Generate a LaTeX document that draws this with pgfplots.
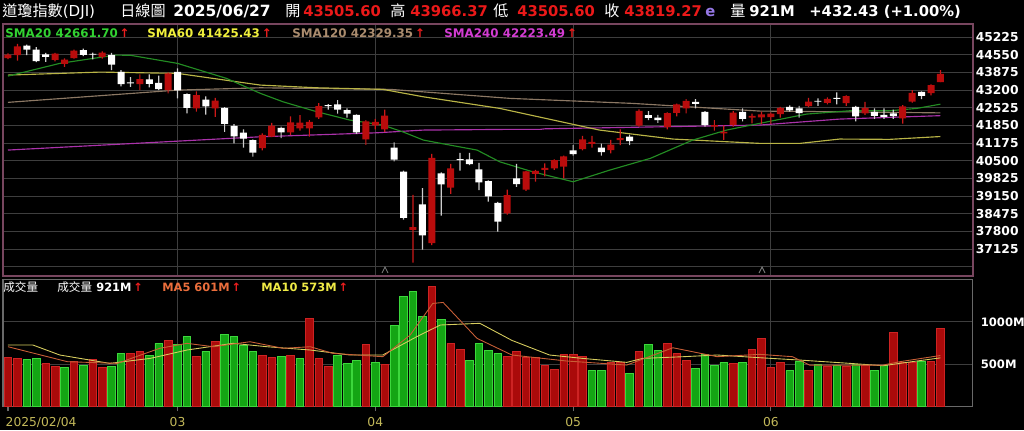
\documentclass[border=0pt]{standalone}
\usepackage{fontspec}
\setmainfont{DejaVu Sans}
\newfontfamily\cjk{Noto Sans CJK TC}
\usepackage{pgfplots}
\usepackage{pgfplotstable}
\pgfplotsset{compat=1.18}

\definecolor{gridc}{RGB}{62,62,62}
\definecolor{pframe}{RGB}{120,70,95}
\definecolor{vframe}{RGB}{105,105,105}
\definecolor{candr}{RGB}{185,12,12}
\definecolor{wickr}{RGB}{205,25,25}
\definecolor{wickw}{RGB}{205,205,205}
\definecolor{hdrred}{RGB}{235,25,25}
\definecolor{arrred}{RGB}{235,30,30}
\definecolor{volr}{RGB}{170,10,10}
\definecolor{volrb}{RGB}{205,35,35}
\definecolor{volg}{RGB}{20,165,20}
\definecolor{volgb}{RGB}{60,215,60}
\definecolor{sma20l}{RGB}{35,140,35}
\definecolor{sma20t}{RGB}{50,210,50}
\definecolor{sma60l}{RGB}{185,180,70}
\definecolor{sma60t}{RGB}{240,240,60}
\definecolor{sma120l}{RGB}{140,120,100}
\definecolor{sma120t}{RGB}{170,140,110}
\definecolor{sma240l}{RGB}{170,50,170}
\definecolor{sma240t}{RGB}{210,60,210}
\definecolor{ma5l}{RGB}{200,95,55}
\definecolor{ma5t}{RGB}{235,110,60}
\definecolor{ma10l}{RGB}{215,205,95}
\definecolor{ma10t}{RGB}{240,235,70}
\definecolor{dtxt}{RGB}{195,185,90}
\definecolor{epurple}{RGB}{150,120,230}

% daily candles, index 0 = 2025/02/04 ... 99 = 2025/06/27
\pgfplotstableread{
i o h l c
0 44420 44600 44380 44556
1 44540 44970 44330 44873
2 44900 44940 44540 44747
3 44750 44840 44270 44303
4 44560 44620 44280 44470
5 44350 44620 44300 44593
6 44200 44410 44090 44368
7 44420 44750 44400 44711
8 44725 44780 44500 44546
9 44565 44630 44370 44556
10 44470 44680 44400 44627
11 44540 44620 43960 44176
12 43900 43960 43340 43428
13 43480 43700 43320 43461
14 43430 43800 43200 43621
15 43610 43800 43300 43433
16 43480 43750 43200 43239
17 43200 43880 43070 43841
18 43900 44030 42880 43191
19 43050 43070 42310 42520
20 42500 43150 42380 43006
21 42840 42960 42260 42579
22 42500 42900 42180 42801
23 42520 42550 41600 41911
24 41830 41900 41160 41433
25 41570 41700 41000 41350
26 41290 41320 40660 40813
27 40980 41550 40900 41488
28 41420 41950 41400 41841
29 41760 41800 41360 41581
30 41580 42200 41480 41965
31 41740 42240 41650 41953
32 41740 42050 41420 41985
33 42160 42700 42100 42583
34 42630 42660 42450 42587
35 42650 42820 42300 42455
36 42430 42500 42150 42300
37 42250 42270 41530 41584
38 41320 42050 41110 42002
39 41850 42100 41700 41989
40 41700 42450 41600 42225
41 41000 41200 40480 40546
42 40080 40120 38250 38315
43 37860 39200 36610 37966
44 38830 39450 37100 37646
45 37350 40760 37280 40609
46 40020 40060 38400 39594
47 39470 40380 39230 40213
48 40560 40800 40120 40525
49 40550 40800 40330 40368
50 40170 40420 39380 39669
51 39720 39750 38940 39142
52 38890 38930 37790 38170
53 38490 39400 38440 39187
54 39830 40380 39500 39607
55 39400 40100 39350 40093
56 40000 40150 39700 40114
57 40150 40400 39900 40228
58 40210 40550 40150 40528
59 40280 40700 39830 40669
60 40900 41100 40700 40753
61 40940 41450 40900 41317
62 41140 41450 41000 41219
63 41000 41150 40700 40829
64 40910 41300 40780 41114
65 41290 41700 41100 41368
66 41420 41500 41100 41249
67 41840 42460 41800 42410
68 42240 42400 42050 42140
69 42150 42250 41950 42051
70 41780 42350 41700 42323
71 42330 42680 42200 42655
72 42500 42850 42310 42792
73 42750 42850 42500 42677
74 42370 42400 41800 41860
75 41800 42050 41650 41859
76 41550 41850 41300 41603
77 41870 42400 41800 42343
78 42370 42500 42000 42099
79 42150 42300 41930 42216
80 42160 42380 41900 42270
81 42170 42350 41900 42305
82 42280 42560 42150 42519
83 42560 42620 42380 42428
84 42500 42600 42150 42320
85 42590 42900 42550 42763
86 42780 42880 42600 42762
87 42715 42920 42650 42867
88 42900 43110 42650 42865
89 42700 43000 42600 42968
90 42560 42600 42000 42198
91 42310 42750 42250 42516
92 42370 42500 42100 42215
93 42250 42500 42100 42172
94 42310 42450 42100 42207
95 42120 42630 41920 42582
96 42760 43200 42720 43089
97 43130 43150 42850 42982
98 43080 43420 43000 43386
99 43505.6 43966.37 43505.6 43819.27
}\candles

\pgfplotsset{
  pricepanel/.style={at={(0.06cm,3.08cm)}, anchor=south west,
    scale only axis, width=19.4cm, height=5.04cm,
    xmin=-0.53, xmax=102.44, ymin=36095, ymax=45722},
}

\begin{document}
\begin{tikzpicture}[x=0.02cm,y=0.02cm]
\fill[black] (0,0) rectangle (1024,430);

% ---------------- price panel: frame, grid, labels, averages ----------------
\begin{axis}[
  pricepanel,
  axis line style={draw=pframe, line width=0.8pt},
  scaled y ticks=false,
  xtick={18,39,60,81}, xticklabels={},
  ytick={36450,37125,37800,38475,39150,39825,40500,41175,41850,42525,43200,43875,44550,45225},
  yticklabels={,37125,37800,38475,39150,39825,40500,41175,41850,42525,43200,43875,44550,45225},
  yticklabel pos=right,
  yticklabel style={font=\bfseries\fontsize{7}{8}\selectfont, text=white, inner sep=1.5pt},
  major tick length=0,
  xmajorgrids, ymajorgrids,
  major grid style={draw=gridc, line width=0.6pt},
]
\addplot[sma240l, line width=0.65pt, mark=none] coordinates {
(0,40908) (26.8,41416) (39.2,41569) (44.1,41672) (53.3,41699) (56.5,41699) (57,41720) (79.8,41863) (88.3,42092) (99,42223)};
\addplot[sma120l, line width=0.65pt, mark=none] coordinates {
(0,42731) (18,43200) (26.8,43288) (40.6,43227) (53.3,42883) (66.3,42692) (79.8,42398) (88.3,42371) (99,42329)};
\addplot[sma60l, line width=0.65pt, mark=none] coordinates {
(0,43773) (9.8,43888) (18,43838) (26.8,43391) (32.8,43288) (39.8,43227) (44.1,42944) (52.2,42501) (62.8,41672) (70.6,41329) (79.8,41164) (84.1,41164) (88.3,41329) (93.6,41317) (99,41425)};
\addplot[sma20l, line width=0.65pt, mark=none] coordinates {
(0,43735) (5.5,44220) (11.4,44537) (13,44530) (18,44220) (23.2,43647) (26.8,43074) (29.2,42753) (32.8,42371) (36.3,42054) (39.8,41863) (41.9,41607) (44.1,41290) (46.9,41100) (49.8,40908) (52.2,40461) (55.7,40079) (60,39697) (63.9,40144) (68.2,40591) (72.7,41290) (76.3,41672) (79.8,41928) (84.8,42284) (89.4,42410) (93.6,42410) (96.5,42500) (99,42662)};
\end{axis}

% wicks: invisible bar up to the low, then high-low
\begin{axis}[pricepanel, hide axis, ybar stacked, bar width=0.024cm]
\addplot[fill=none, draw=none] table[x=i, y=l] {\candles};
\addplot[fill=wickr, draw=none] table[x=i, y expr={\thisrow{c}>\thisrow{o} ? \thisrow{h}-\thisrow{l} : 0}] {\candles};
\addplot[fill=wickw, draw=none] table[x=i, y expr={\thisrow{c}>\thisrow{o} ? 0 : \thisrow{h}-\thisrow{l}}] {\candles};
\end{axis}

% bodies: invisible bar up to min(open,close), then |close-open|
\begin{axis}[pricepanel, hide axis, ybar stacked, bar width=0.14cm]
\addplot[fill=none, draw=none] table[x=i, y expr={min(\thisrow{o},\thisrow{c})}] {\candles};
\addplot[fill=candr, draw=none] table[x=i, y expr={\thisrow{c}>\thisrow{o} ? max(\thisrow{c}-\thisrow{o},30) : 0}] {\candles};
\addplot[fill=white, draw=none] table[x=i, y expr={\thisrow{c}>\thisrow{o} ? 0 : max(\thisrow{o}-\thisrow{c},30)}] {\candles};
\end{axis}

% ---------------- volume panel ----------------
\begin{axis}[
  at={(0.06cm,0.474cm)}, anchor=south west,
  scale only axis, width=19.4cm, height=2.536cm,
  xmin=-0.53, xmax=102.44, ymin=0, ymax=1500,
  axis line style={draw=vframe, line width=0.6pt},
  xtick={18,39,60,81}, xticklabels={03,04,05,06},
  extra x ticks={0}, extra x tick labels={2025/02/04},
  extra x tick style={grid=none, xticklabel style={anchor=north west, xshift=-0.17cm}},
  xtick pos=lower, tick align=outside,
  xtick style={draw=vframe, line width=0.6pt},
  major tick length=0.1cm,
  xticklabel style={font=\fontsize{7}{8}\selectfont, text=dtxt},
  ytick={500,1000}, yticklabels={500M,1000M},
  yticklabel pos=right,
  ytick style={draw=none},
  yticklabel style={font=\bfseries\fontsize{6.6}{8}\selectfont, text=white, inner sep=1.5pt},
  xmajorgrids, ymajorgrids,
  major grid style={draw=gridc, line width=0.6pt},
]
\addplot[ybar, bar width=0.152cm, bar shift=0pt, fill=volr, draw=volrb, line width=0.4pt] coordinates {
(0,574) (1,567) (4,508) (5,468) (7,527) (9,559) (10,456) (13,626) (14,654) (17,784)
(20,595) (22,772) (27,606) (28,575) (30,606) (32,1040) (33,567) (34,468) (38,736) (40,500)
(45,1414) (47,745) (48,677) (53,595) (54,645) (55,575) (56,575) (57,488) (58,441) (59,614)
(60,614) (61,595) (64,520) (65,520) (67,654) (70,745) (71,626) (72,547) (77,508) (79,677)
(80,804) (81,461) (82,520) (85,429) (87,468) (89,468) (91,480) (94,870) (95,520) (96,520)
(98,535) (99,921)};
\addplot[ybar, bar width=0.152cm, bar shift=0pt, fill=volg, draw=volgb, line width=0.4pt] coordinates {
(2,555) (3,567) (6,456) (8,488) (11,468) (12,626) (15,606) (16,745) (18,736) (19,823)
(21,654) (23,851) (24,831) (25,725) (26,654) (29,587) (31,567) (35,606) (36,508) (37,544)
(39,520) (41,953) (42,1296) (43,1363) (44,1059) (46,1028) (49,547) (50,745) (51,665) (52,626)
(62,429) (63,421) (66,390) (68,736) (69,665) (73,449) (74,614) (75,488) (76,516) (78,520)
(83,421) (84,535) (86,496) (88,488) (90,496) (92,429) (93,488) (97,527)};
\addplot[ma10l, line width=0.5pt, mark=none, sharp plot] coordinates {
(0,725) (2.65,725) (5.5,607) (10.8,508) (15.1,567) (19,666) (23.9,745) (27.5,705) (32.1,666) (36.3,607) (39.8,607) (43.4,824) (45.9,962) (50.1,982) (53.5,780) (57.5,607) (61,567) (65.7,520) (67.4,567) (71.7,587) (75.3,607) (79.8,575) (84.1,547) (89.4,508) (92.9,480) (96.5,536) (99,573)};
\addplot[ma5l, line width=0.5pt, mark=none, sharp plot] coordinates {
(0,705) (6.3,528) (11.6,508) (16.1,686) (19,745) (21.8,705) (25.7,764) (29.2,686) (32.1,705) (34.5,626) (39.8,587) (42.7,843) (45.1,1217) (46.2,1229) (49.8,804) (53.5,607) (59.3,536) (65.7,488) (70.6,693) (75.3,587) (79.8,615) (83.3,587) (85.1,488) (92.9,488) (94.7,528) (99,601)};
\end{axis}

% small markers under the price panel
\draw[gray, line width=0.5pt] (382,157) -- (385,163) -- (388,157);
\draw[gray, line width=0.5pt] (759,157) -- (762,163) -- (765,157);

% ---------------- header texts ----------------
\begin{scope}[every node/.style={anchor=base west, inner sep=0pt, text=white}]
\node[font=\fontsize{8.6}{10}\selectfont] at (2,413) {\cjk 道瓊指數\rmfamily(DJI)};
\node[font=\fontsize{8.6}{10}\selectfont] at (120,413) {\cjk 日線圖};
\node[font=\bfseries\fontsize{8.8}{10}\selectfont] at (173,413) {2025/06/27};
\node[font=\fontsize{8.6}{10}\selectfont] at (285,413) {\cjk 開};
\node[font=\bfseries\fontsize{8.4}{10}\selectfont, text=hdrred] at (303,413) {43505.60};
\node[font=\fontsize{8.6}{10}\selectfont] at (390,413) {\cjk 高};
\node[font=\bfseries\fontsize{8.4}{10}\selectfont, text=hdrred] at (410,413) {43966.37};
\node[font=\fontsize{8.6}{10}\selectfont] at (493,413) {\cjk 低};
\node[font=\bfseries\fontsize{8.4}{10}\selectfont, text=hdrred] at (517,413) {43505.60};
\node[font=\fontsize{8.6}{10}\selectfont] at (604,413) {\cjk 收};
\node[font=\bfseries\fontsize{8.4}{10}\selectfont, text=hdrred] at (624,413) {43819.27};
\node[font=\bfseries\fontsize{8.4}{10}\selectfont, text=epurple] at (705,413) {e};
\node[font=\fontsize{8.6}{10}\selectfont] at (730,413) {\cjk 量};
\node[font=\bfseries\fontsize{8.4}{10}\selectfont] at (749,413) {921M};
\node[font=\bfseries\fontsize{8.4}{10}\selectfont] at (809,413) {+432.43 (+1.00\%)};

\node[font=\bfseries\fontsize{6.75}{8}\selectfont, text=sma20t] at (5,392.7) {SMA20 42661.70\,{\color{arrred}↑}};
\node[font=\bfseries\fontsize{6.75}{8}\selectfont, text=sma60t] at (147,392.7) {SMA60 41425.43\,{\color{arrred}↑}};
\node[font=\bfseries\fontsize{6.75}{8}\selectfont, text=sma120t] at (292,392.7) {SMA120 42329.35\,{\color{arrred}↑}};
\node[font=\bfseries\fontsize{6.75}{8}\selectfont, text=sma240t] at (444,392.7) {SMA240 42223.49\,{\color{arrred}↑}};

\node[font=\fontsize{6.6}{8}\selectfont] at (3,138.5) {\cjk 成交量};
\node[font=\fontsize{6.6}{8}\selectfont] at (57,138.5) {\cjk 成交量};
\node[font=\bfseries\fontsize{6.5}{8}\selectfont] at (96,138.5) {921M\,{\color{arrred}↑}};
\node[font=\bfseries\fontsize{6.5}{8}\selectfont, text=ma5t] at (162,138.5) {MA5 601M\,{\color{arrred}↑}};
\node[font=\bfseries\fontsize{6.5}{8}\selectfont, text=ma10t] at (261,138.5) {MA10 573M\,{\color{arrred}↑}};
\end{scope}

\pgfresetboundingbox
\path[use as bounding box] (0,0) rectangle (1024,430);
\end{tikzpicture}
\end{document}
